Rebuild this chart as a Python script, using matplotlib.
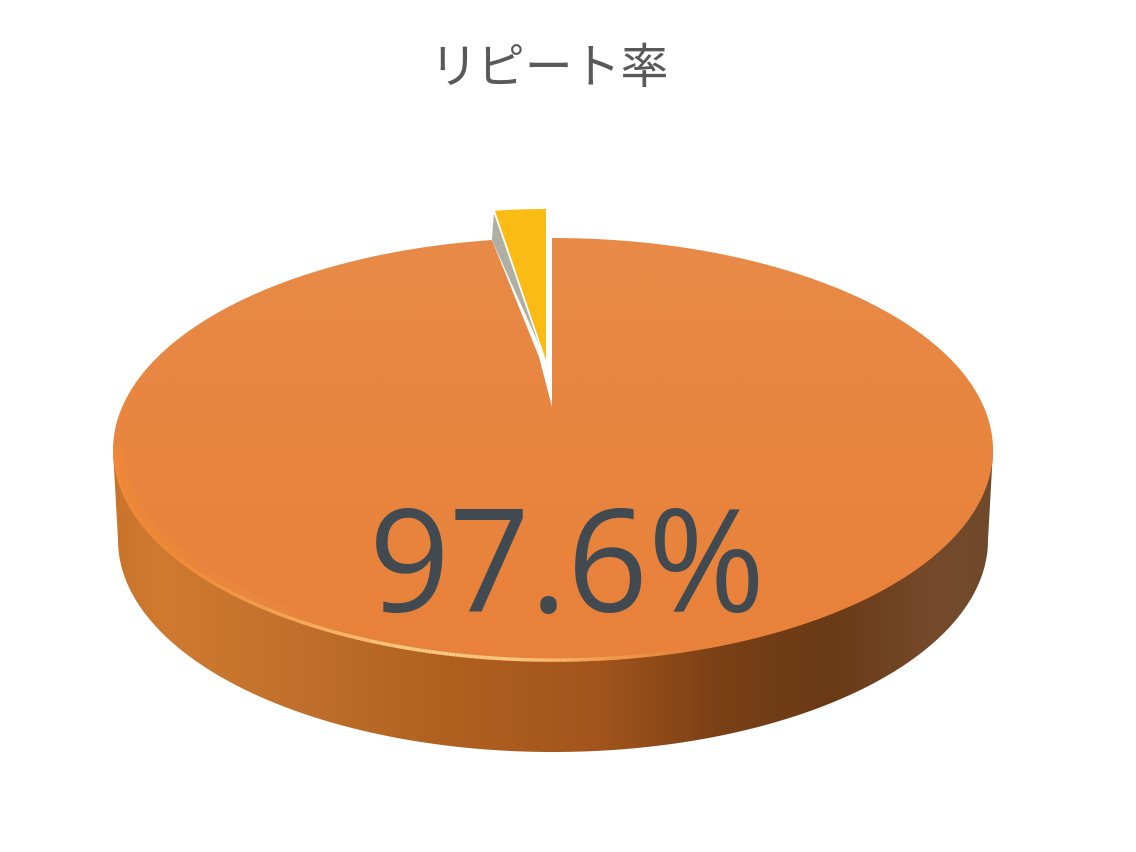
"""
Repeat rate pie, drawn as a thick 3D style disc
"""
import matplotlib
matplotlib.use("Agg")
import matplotlib.pyplot as plt
from matplotlib.collections import LineCollection
from matplotlib.colors import to_rgb
from matplotlib.patches import Polygon
import numpy as np

TITLE = "リピート率"
LABELS = ["リピート", "その他"]
VALUES = [97.6, 2.4]
CENTER_LABEL = "97.6%"

plt.rcParams["font.family"] = ["Noto Sans CJK JP", "DejaVu Sans"]


def ellipse(cx, cy, rx, ry, start, stop, n=300):
    t = np.radians(np.linspace(start, stop, n))
    return np.column_stack([cx + rx*np.cos(t), cy + ry*np.sin(t)])


def wedge(apex, rx, ry, share, n=20):
    # slice measured from 12 o'clock going left, y axis points down
    t = np.linspace(0, share*2*np.pi, n)
    arc = np.column_stack([apex[0] - rx*np.sin(t), apex[1] - ry*np.cos(t)])
    return np.vstack([apex, arc])


def gradient(ax, xs, colors, clip, vertical=False):
    # 1D colour ramp painted through a clip patch
    rgb = np.array([to_rgb(c) for c in colors])
    pos = np.linspace(xs[0], xs[-1], 600)
    ramp = np.column_stack([np.interp(pos, xs, rgb[:, i]) for i in range(3)])
    if vertical:
        img = ramp[:, None, :]
        extent = (0, 1136, xs[-1], xs[0])
    else:
        img = ramp[None, :, :]
        extent = (xs[0], xs[-1], 852, 0)
    im = ax.imshow(img, extent=extent, aspect="auto", zorder=clip.get_zorder(),
                   interpolation="bilinear")
    im.set_clip_path(clip)


def rim_line(ax, pts, xs, colors, alphas, width, zorder):
    # stroke whose colour and opacity follow x, so its ends melt into the face
    rgb = np.array([to_rgb(c) for c in colors])
    seg = np.stack([pts[:-1], pts[1:]], axis=1)
    mid = seg.mean(axis=1)[:, 0]
    rgba = np.column_stack([np.interp(mid, xs, rgb[:, i]) for i in range(3)]
                           + [np.interp(mid, xs, alphas)])
    ax.add_collection(LineCollection(seg, colors=rgba, linewidths=width, zorder=zorder,
                                     capstyle="butt"))


fig = plt.figure(figsize=(11.36, 8.52), dpi=100)
ax = fig.add_axes([0, 0, 1, 1])

share = VALUES[1]/sum(VALUES)

# side of the disc
low = ellipse(553, 540, 435, 212, 0, 180)
top = ellipse(553, 450, 440, 212, 0, 180)
band = Polygon(np.vstack([top[:1], low, top[-1:]]), closed=True, fc="none", ec="none", zorder=1)
ax.add_patch(band)
gradient(ax, [113, 160, 300, 450, 600, 720, 830, 930, 993],
         ["#c9742c", "#d07a30", "#c0702c", "#b0601f", "#a2541c", "#7a4016", "#693a15", "#75492a", "#6f4a2c"],
         band)

# top face
face = Polygon(ellipse(553, 450, 440, 212, 0, 360), closed=True, fc="none", ec="none", zorder=2)
ax.add_patch(face)
gradient(ax, [238, 450, 663], ["#e88a48", "#e8853f", "#e9813a"], face, vertical=True)

# bright rim along the front left edge
rim_x = [113, 190, 300, 400, 520, 620, 720]
rim_colors = ["#f58c34", "#f28f3a", "#f6b060", "#f8cc84", "#f8c880", "#f2a050", "#e9813a"]
rim_line(ax, ellipse(553, 450, 434, 206, 65, 180, n=250), rim_x, rim_colors,
         [0.4, 0.3, 0.06, 0.0, 0.0, 0.0, 0.0], 8, 3)
rim_line(ax, ellipse(553, 450, 438, 210, 65, 180, n=250), rim_x, rim_colors,
         [0.5, 0.7, 0.9, 1.0, 1.0, 0.8, 0.0], 2.4, 3.1)

# notch left by the pulled out slice, its left edge bends slightly near the tip
notch_apex = np.array([552, 407])
notch = wedge(notch_apex, 400, 169, share)
notch_top = notch.copy()
notch_top[1:, 1] -= 5
bend = notch[-1] + 0.7*(notch_apex - notch[-1]) + (5, 0)
ax.add_patch(Polygon(np.vstack([notch_top, notch[-1], bend]), closed=True, fc="white", ec="none", zorder=4))

# pulled out slice
slice_pts = wedge((546, 360), 340, 151, share)

# grey cut face between the notch edge and the slice, thinning towards the tip
cut = np.array([slice_pts[-1], notch[-1], slice_pts[0]])
cut[0] += (-1, 2)
ax.add_patch(Polygon(cut, closed=True, fc="#b0afa3", ec="none", zorder=4.5))

ax.plot(slice_pts[[0, -1], 0] - 0.5, slice_pts[[0, -1], 1] + 0.5, color="white", lw=1.6, zorder=4.8)
ax.add_patch(Polygon(slice_pts, closed=True, fc="#f9bb14", ec="none", zorder=5))

ax.text(549, 69, TITLE, ha="center", va="center", fontsize=34.5, color="#595959", zorder=6)
ax.text(567, 574, CENTER_LABEL, ha="center", va="center", fontsize=102,
        family=["Open Sans", "DejaVu Sans"], color="#404a50", zorder=6)

ax.set_xlim(0, 1136)
ax.set_ylim(852, 0)
ax.axis("off")
fig.savefig("out.png", dpi=100, facecolor="white")
